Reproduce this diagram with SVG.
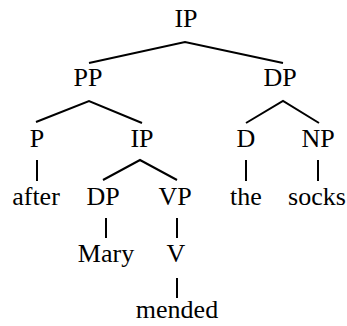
<svg xmlns="http://www.w3.org/2000/svg" width="347" height="326" viewBox="0 0 347 326">
<style>
text{font-family:"Liberation Serif","Times New Roman",serif;font-size:26px;fill:#000;text-anchor:middle}
#edges line,#edges polyline{stroke:#000;stroke-width:2;fill:none}
</style>
<rect width="347" height="326" fill="#fff"/>
<g id="edges">
<polyline points="89,63 185,42 283,63"/>
<polyline points="36,122 89,101 142,123"/>
<polyline points="246,123 283,101 319,123"/>
<line x1="37" y1="160" x2="37" y2="181"/>
<polyline points="103,180 140,160 177,180"/>
<line x1="246" y1="160" x2="246" y2="181"/>
<line x1="318" y1="160" x2="318" y2="181"/>
<line x1="106" y1="218" x2="106" y2="238"/>
<line x1="177" y1="218" x2="177" y2="238"/>
<line x1="177" y1="278" x2="177" y2="298"/>
</g>
<g id="n-IP"><text x="186" y="27">IP</text></g>
<g id="n-PP"><text x="88" y="86">PP</text></g>
<g id="n-DP"><text x="280" y="86">DP</text></g>
<g id="n-P"><text x="37" y="147">P</text></g>
<g id="n-IP2"><text x="142" y="147">IP</text></g>
<g id="n-D"><text x="246" y="147">D</text></g>
<g id="n-NP"><text x="318" y="147">NP</text></g>
<g id="n-after"><text x="36" y="205">after</text></g>
<g id="n-DP2"><text x="103" y="205">DP</text></g>
<g id="n-VP"><text x="175" y="205">VP</text></g>
<g id="n-the"><text x="246" y="205">the</text></g>
<g id="n-socks"><text x="317" y="205">socks</text></g>
<g id="n-Mary"><text x="106" y="262">Mary</text></g>
<g id="n-V"><text x="176" y="262">V</text></g>
<g id="n-mended"><text x="177" y="318">mended</text></g>
</svg>
